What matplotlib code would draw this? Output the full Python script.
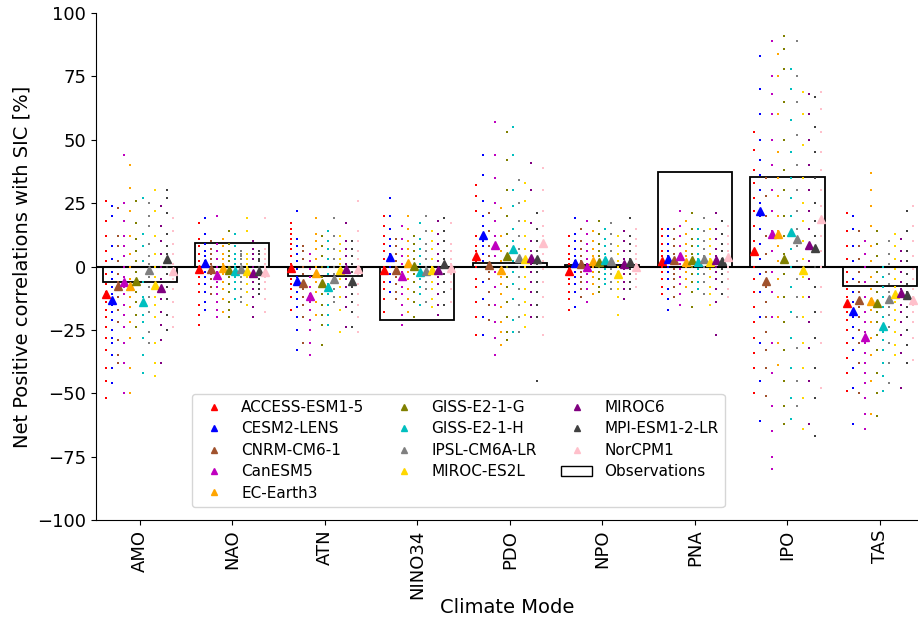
import numpy as np
import matplotlib
import matplotlib.pyplot as plt
from matplotlib.patches import Patch
from matplotlib.lines import Line2D

matplotlib.use("Agg")

modes = ["AMO", "NAO", "ATN", "NINO34", "PDO", "NPO", "PNA", "IPO", "TAS"]
models = ["ACCESS-ESM1-5", "CESM2-LENS", "CNRM-CM6-1", "CanESM5", "EC-Earth3",
          "GISS-E2-1-G", "GISS-E2-1-H", "IPSL-CM6A-LR", "MIROC-ES2L", "MIROC6",
          "MPI-ESM1-2-LR", "NorCPM1"]
colors = ["red", "blue", "sienna", "m", "orange", "olive", "c", "gray",
          "gold", "purple", "#404040", "pink"]

# observed net positive correlation per mode
obs = [-6.2, 9.4, -3.7, -21.2, 1.4, 0.5, 37.4, 35.4, -7.7]

# ensemble mean per mode (rows) and model (columns)
ens_mean = [
    [-11.0, -13.1, -7.7, -6.0, -7.6, -5.6, -14.1, -1.4, -7.4, -8.5, 2.8, -1.9],
    [-1.0, 1.5, -1.1, -3.4, -0.7, -1.4, -1.8, -1.1, -1.7, -2.7, -1.8, -2.3],
    [-0.7, -5.7, -6.4, -11.6, -2.4, -6.6, -8.2, -4.9, -1.4, -1.0, -5.7, -0.9],
    [-1.3, 3.9, -1.2, -3.6, 1.2, 0.3, -2.0, -1.6, -1.5, -1.4, 1.1, -0.7],
    [4.1, 12.3, 0.6, 8.5, -1.4, 4.3, 6.8, 3.4, 3.0, 3.4, 3.0, 9.3],
    [-1.8, 1.5, 1.0, -0.1, 2.2, 1.6, 2.7, 2.2, -2.8, 0.9, 1.8, -0.1],
    [2.3, 3.0, 2.6, 4.0, 1.8, 2.7, 1.8, 3.0, 1.8, 2.6, 2.2, 3.9],
    [6.3, 22.0, -5.9, 12.9, 12.8, 3.0, 13.8, 10.8, -1.3, 8.5, 7.2, 18.6],
    [-14.5, -17.4, -13.1, -27.9, -13.5, -14.3, -23.3, -12.9, -10.8, -10.6, -11.3, -13.2],
]

# individual ensemble members (approximate), one list per model
amo_members = [
    [26, 18, 12, 6, 2, -3, -7, -10, -12, -14, -17, -20, -24, -28, -33, -40, -45, -52],
    [24, 20, 8, 3, -2, -5, -8, -11, -13, -15, -18, -21, -25, -28, -30, -35, -40, -46],
    [23, 12, 8, 2, -3, -6, -9, -12, -17, -22, -29, -35, -38],
    [44, 25, 18, 12, 8, 4, 0, -4, -8, -11, -15, -19, -24, -30, -38, -50],
    [40, 31, 22, 12, 5, 0, -5, -8, -12, -16, -22, -28, -40, -50],
    [26, 17, 11, 6, 2, -2, -6, -10, -14, -19, -24],
    [27, 13, 8, 2, -6, -12, -15, -19, -22, -28, -35, -42],
    [25, 20, 16, 9, 4, 1, -1, -4, -8, -12, -18, -26, -30],
    [30, 22, 12, 5, 0, -4, -8, -12, -15, -20, -30, -38, -43],
    [24, 16, 10, 5, 0, -5, -9, -13, -18, -23, -29, -38],
    [30, 27, 21, 13, 8, 5, 2, 0, -3, -8, -13, -19, -25],
    [19, 14, 9, 5, 1, -2, -5, -9, -14, -20, -24],
]
nao_members = [
    [17, 11, 8, 5, 2, 0, -2, -4, -7, -10, -15, -19, -23],
    [19, 13, 9, 6, 4, 2, 0, -2, -4, -7, -10, -14, -17],
    [10, 7, 5, 3, 1, -1, -3, -5, -8, -11],
    [20, 9, 6, 3, 0, -2, -4, -6, -8, -11, -14, -17, -20],
    [11, 8, 5, 3, 1, -1, -3, -6, -9, -13, -18],
    [14, 9, 6, 4, 2, 0, -2, -4, -7, -10, -14, -17, -20],
    [13, 8, 5, 3, 1, 0, -2, -4, -6, -9, -13],
    [6, 5, 4, 3, 1, 0, -2, -4, -6, -9, -12, -14],
    [19, 14, 5, 3, 1, 0, -2, -4, -7, -10, -15],
    [10, 7, 5, 3, 0, -2, -4, -6, -9, -12, -16, -20],
    [6, 5, 3, 2, 0, -2, -3, -5, -7, -9, -11],
    [19, 7, 5, 3, 1, 0, -2, -4, -6, -9, -13, -18],
]
atn_members = [
    [17, 15, 13, 11, 9, 7, 4, 1, -2, -5, -7, -9, -12, -17],
    [22, 11, 8, 5, 2, -1, -4, -7, -10, -13, -16, -20, -25, -33],
    [8, 6, 3, 0, -3, -6, -9, -12, -15, -20, -30],
    [5, 2, -1, -4, -8, -11, -14, -17, -21, -25, -30, -35],
    [19, 13, 10, 7, 3, 0, -3, -6, -10, -14, -19],
    [12, 8, 4, 0, -4, -8, -11, -15, -19, -23, -31],
    [14, 10, 7, 3, 0, -3, -7, -11, -15, -19, -23],
    [19, 12, 7, 3, 0, -3, -6, -9, -12, -14],
    [12, 9, 6, 3, 1, -2, -5, -8, -12, -17, -26],
    [17, 10, 7, 4, 1, -2, -5, -8, -12, -16, -24],
    [10, 7, 4, 1, -2, -5, -8, -11, -14, -18, -24],
    [26, 14, 10, 6, 3, 0, -3, -7, -11, -15, -20, -26],
]
nino34_members = [
    [20, 16, 12, 9, 6, 3, 0, -3, -6, -9, -13, -18],
    [27, 20, 15, 11, 8, 5, 2, 0, -3, -6, -10],
    [11, 8, 5, 2, 0, -2, -4, -7, -10, -13],
    [16, 11, 7, 4, 1, -2, -5, -8, -11, -15, -19, -23],
    [20, 15, 10, 7, 4, 1, -2, -5, -9, -13, -18],
    [12, 9, 6, 3, 0, -3, -6, -10, -14, -20],
    [17, 11, 7, 4, 1, -2, -5, -8, -11, -15],
    [20, 14, 9, 6, 3, 0, -3, -6, -9, -14],
    [14, 10, 7, 3, 0, -3, -6, -9, -13, -16],
    [18, 13, 9, 5, 2, -1, -4, -7, -11, -15, -19],
    [19, 14, 10, 6, 3, 0, -3, -6, -10, -15],
    [17, 9, 6, 3, 1, -1, -3, -6, -9, -14],
]
pdo_members = [
    [32, 28, 22, 12, 8, 6, 4, 2, 0, -5, -8, -14, -20, -27],
    [44, 36, 26, 20, 16, 12, 10, 8, 5, 2, -6, -13, -20, -27],
    [21, 14, 8, 4, 1, -2, -5, -10, -15, -21],
    [57, 44, 35, 25, 18, 12, 8, 4, -2, -8, -15, -22, -28, -35],
    [23, 12, 6, 2, -1, -4, -7, -11, -16, -22, -26, -31],
    [53, 42, 30, 20, 13, 8, 4, 0, -4, -8, -14, -20, -26, -29],
    [55, 44, 30, 24, 15, 10, 6, 2, -2, -7, -13, -21, -26],
    [34, 25, 18, 12, 7, 3, 0, -4, -9, -15, -20, -26],
    [33, 26, 18, 12, 7, 3, 0, -4, -9, -14, -19, -24],
    [41, 30, 17, 10, 6, 3, 1, -2, -6, -10, -15, -20],
    [21, 15, 10, 6, 3, 1, -2, -6, -10, -15, -20, -45],
    [39, 30, 22, 16, 12, 8, 5, 2, -1, -6, -12, -20, -27],
]
npo_members = [
    [12, 8, 5, 3, 1, -1, -3, -5, -7, -10, -13, -17],
    [19, 13, 10, 7, 4, 2, 0, -2, -4, -7, -10, -16],
    [15, 10, 7, 4, 2, 0, -2, -4, -6, -9, -12],
    [18, 13, 9, 6, 3, 1, -1, -3, -6, -9, -14],
    [14, 10, 7, 4, 2, 0, -2, -4, -7, -11],
    [18, 13, 9, 6, 4, 2, 0, -2, -5, -8, -10],
    [15, 11, 8, 5, 3, 1, -1, -3, -5, -7],
    [17, 13, 9, 6, 3, 1, -1, -3, -6, -9],
    [12, 8, 5, 2, 0, -2, -4, -6, -9, -12, -19],
    [14, 10, 6, 3, 1, -1, -3, -6, -9, -13],
    [19, 12, 9, 6, 3, 1, -1, -3, -6, -9],
    [15, 11, 8, 5, 3, 1, -1, -3, -5, -8],
]
pna_members = [
    [15, 12, 9, 6, 4, 2, 0, -2, -5, -8, -11],
    [15, 12, 9, 6, 4, 2, 0, -2, -5, -9, -13, -17],
    [15, 11, 8, 5, 3, 1, -1, -3, -5, -8, -12],
    [22, 16, 12, 8, 5, 3, 1, -1, -4, -7, -11, -15],
    [18, 13, 9, 6, 4, 2, 0, -2, -5, -8],
    [21, 15, 11, 8, 5, 2, 0, -3, -6, -10, -16],
    [15, 11, 8, 5, 3, 1, -1, -3, -6, -9],
    [19, 14, 10, 7, 4, 2, 0, -3, -6, -11],
    [15, 11, 8, 5, 3, 1, -1, -4, -8, -11, -15],
    [21, 15, 11, 7, 4, 2, 0, -2, -5, -9, -14, -27],
    [18, 13, 9, 6, 3, 1, -1, -3, -6, -11],
    [16, 12, 9, 6, 4, 2, 0, -2, -5, -9, -12],
]
ipo_members = [
    [53, 46, 38, 33, 27, 22, 16, 10, 5, 0, -5, -10, -16, -22, -28, -34, -40, -50],
    [83, 70, 60, 50, 42, 36, 30, 25, 20, 15, 9, 3, -3, -10, -20, -30, -45, -61],
    [35, 28, 20, 12, 5, -2, -8, -14, -20, -26, -33, -40, -51],
    [89, 75, 68, 60, 50, 40, 30, 22, 14, 6, -2, -10, -20, -30, -42, -55, -65, -75, -80],
    [84, 75, 60, 45, 35, 28, 20, 14, 8, 2, -5, -12, -20, -30, -39],
    [91, 86, 78, 65, 50, 38, 30, 20, 12, 5, -3, -12, -22, -33, -45, -55, -62],
    [78, 70, 58, 45, 35, 27, 20, 14, 7, 0, -8, -18, -28, -40, -52, -60],
    [89, 75, 65, 52, 40, 30, 22, 15, 8, 2, -5, -12, -20, -32, -45, -55],
    [69, 60, 48, 35, 25, 18, 10, 3, -4, -12, -20, -30, -40, -52, -64],
    [68, 60, 50, 40, 30, 22, 15, 8, 2, -5, -12, -22, -32, -45, -62],
    [67, 55, 45, 35, 25, 18, 12, 6, 0, -8, -18, -28, -40, -52, -67],
    [69, 62, 53, 45, 38, 30, 24, 18, 12, 6, 0, -8, -18, -30, -48],
]
tas_members = [
    [21, 14, 8, 3, -2, -6, -9, -12, -15, -18, -21, -25, -30, -36, -42, -49],
    [20, 15, 8, 2, -5, -10, -14, -17, -20, -24, -28, -33, -40, -48, -62],
    [14, 8, 3, -2, -6, -10, -13, -16, -20, -25, -30, -38, -50],
    [10, 5, 0, -6, -12, -18, -22, -26, -30, -34, -38, -42, -46, -52, -58, -64],
    [37, 30, 24, 16, 8, 2, -4, -9, -13, -17, -22, -28, -35, -45, -58],
    [14, 9, 4, -2, -6, -10, -14, -18, -22, -27, -33, -42, -50, -59],
    [0, -4, -8, -12, -16, -20, -23, -26, -29, -33, -38, -43, -49],
    [10, 5, 1, -3, -7, -10, -13, -16, -19, -24, -30, -38, -46],
    [13, 8, 3, -1, -5, -8, -11, -14, -17, -21, -26, -31, -35],
    [11, 6, 2, -2, -6, -9, -12, -15, -18, -22, -27, -34, -48],
    [22, 14, 6, 2, -3, -7, -10, -13, -16, -20, -25, -31, -38],
    [24, 16, 10, 4, -1, -5, -9, -12, -15, -18, -22, -28, -37],
]
members = [amo_members, nao_members, atn_members, nino34_members, pdo_members,
           npo_members, pna_members, ipo_members, tas_members]

fig = plt.figure(figsize=(9.18, 6.21), dpi=100)
ax = fig.add_axes([0.1046, 0.1626, 0.8954, 0.8164])

x = np.arange(len(modes))
offsets = np.linspace(-0.36, 0.36, len(models))

# observations as hollow bars
ax.bar(x, obs, width=0.8, facecolor="none", edgecolor="k", linewidth=1.3, zorder=2)
ax.axhline(0, color="k", linewidth=1.5, zorder=2)

for i, mode in enumerate(modes):
    for j, model in enumerate(models):
        vals = members[i][j]
        xm = np.full(len(vals), x[i] + offsets[j])
        ax.plot(xm, vals, ls="none", marker="s", markersize=2.0,
                markeredgewidth=0, color=colors[j], zorder=3)
        ax.plot(x[i] + offsets[j], ens_mean[i][j], ls="none", marker="^",
                markersize=6, color=colors[j], zorder=4)

ax.set_xlim(-0.47, 8.41)
ax.set_ylim(-100, 100)
ax.set_yticks(np.arange(-100, 101, 25))
ax.set_xticks(x)
ax.set_xticklabels(modes, rotation=90)
ax.tick_params(axis="both", labelsize=13)
ax.spines["top"].set_visible(False)
ax.spines["right"].set_visible(False)
ax.set_ylabel("Net Positive correlations with SIC [%]", fontsize=14)
ax.set_xlabel("Climate Mode", fontsize=14, labelpad=-1)

handles = [Line2D([], [], ls="none", marker="^", markersize=4, color=c) for c in colors]
labels = list(models)
handles.append(Patch(facecolor="none", edgecolor="k"))
labels.append("Observations")
ax.legend(handles, labels, ncol=3, fontsize=11, loc="lower left",
          bbox_to_anchor=(0.117, 0.026), borderaxespad=0,
          columnspacing=1.6, labelspacing=0.42)

fig.savefig("out.png", dpi=100)
